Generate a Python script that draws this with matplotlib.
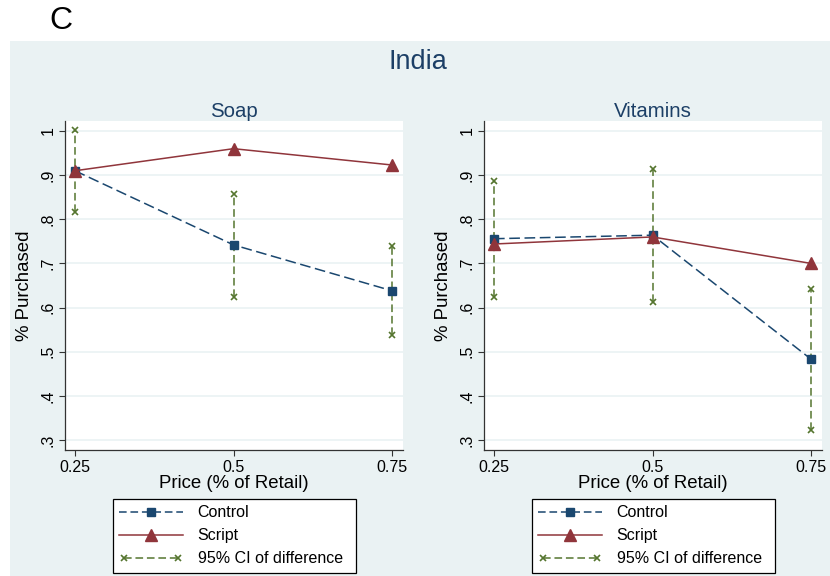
import matplotlib
matplotlib.use("Agg")
import matplotlib.pyplot as plt
from matplotlib.lines import Line2D
from matplotlib.legend_handler import HandlerLine2D
from matplotlib.patches import Rectangle

plt.rcParams['font.family'] = ['Liberation Sans', 'DejaVu Sans']

# data
price = [0.25, 0.5, 0.75]
panels = ["Soap", "Vitamins"]
control = {"Soap": [0.910, 0.742, 0.638], "Vitamins": [0.756, 0.764, 0.483]}
script = {"Soap": [0.910, 0.960, 0.923], "Vitamins": [0.744, 0.760, 0.700]}
ci_lo = {"Soap": [0.816, 0.625, 0.537], "Vitamins": [0.624, 0.613, 0.323]}
ci_hi = {"Soap": [1.003, 0.858, 0.739], "Vitamins": [0.887, 0.915, 0.641]}
yticks = [0.3, 0.4, 0.5, 0.6, 0.7, 0.8, 0.9, 1.0]
ytick_labels = [".3", ".4", ".5", ".6", ".7", ".8", ".9", "1"]
xticks = [0.25, 0.5, 0.75]
xtick_labels = ["0.25", "0.5", "0.75"]

navy = "#1a476f"
maroon = "#90353b"
green = "#55752f"
bg = "#eaf2f3"

W, H = 830, 576
fig = plt.figure(figsize=(8.3, 5.76), dpi=100)
fig.patches.append(Rectangle((10 / W, 0), 1 - 10 / W, 1 - 41 / H,
                             transform=fig.transFigure, facecolor=bg,
                             edgecolor="none", zorder=-5))
fig.text(49 / W, 1 - 21 / H, "C", fontsize=23, va="center", ha="left")
fig.text(418 / W, 1 - 62 / H, "India", fontsize=19.5, color="#1c3f66",
         ha="center", va="center")

lefts = [65, 484]
for k, name in enumerate(panels):
    x0 = lefts[k]
    ax = fig.add_axes([x0 / W, 1 - 450 / H, 338 / W, 329 / H])
    ax.set_facecolor("white")
    ax.set_xlim(0.2343, 0.7672)
    ax.set_ylim(0.2773, 1.0227)
    for s in ["top", "right"]:
        ax.spines[s].set_visible(False)
    for s in ["left", "bottom"]:
        ax.spines[s].set_color("#333333")
        ax.spines[s].set_linewidth(0.9)
    ax.set_yticks(yticks)
    ax.set_yticklabels(ytick_labels, rotation=90, va="center")
    ax.set_xticks(xticks)
    ax.set_xticklabels(xtick_labels)
    ax.tick_params(labelsize=11.5, length=4, color="#333333", pad=3)
    ax.grid(axis="y", color=bg, linewidth=1.2)
    ax.set_axisbelow(True)
    ax.set_ylabel("% Purchased", fontsize=13.4, labelpad=5)
    ax.set_xlabel("Price (% of Retail)", fontsize=13.4, labelpad=0)
    ax.set_title(name, fontsize=14.7, color="#1c3f66", pad=3)

    for i, p in enumerate(price):
        ax.plot([p, p], [ci_lo[name][i], ci_hi[name][i]], color=green,
                linestyle=(0, (5, 2.5)), linewidth=1.1, marker="x",
                markersize=4.5, markeredgewidth=1.2, zorder=2)
    ax.plot(price, control[name], color=navy, linestyle=(0, (7, 3)),
            linewidth=1.1, marker="s", markersize=5.5, zorder=3)
    ax.plot(price, script[name], color=maroon, linewidth=1.1, marker="^",
            markersize=8, zorder=4)

    h_ctrl = Line2D([], [], color=navy, linestyle=(0, (5, 2.5)), linewidth=1.1,
                    marker="s", markersize=5.5)
    h_scr = Line2D([], [], color=maroon, linewidth=1.1, marker="^", markersize=8)
    h_ci = Line2D([], [], color=green, linestyle=(0, (5, 2.5)), linewidth=1.1,
                  marker="x", markersize=4.5, markeredgewidth=1.2)
    leg = fig.legend([h_ctrl, h_scr, h_ci],
                     ["Control", "Script", "95% CI of difference"],
                     loc="upper left",
                     bbox_to_anchor=((x0 + 48) / W, 1 - 499 / H, 243 / W, 0),
                     mode="expand", fontsize=11.5, frameon=True, fancybox=False,
                     edgecolor="black", framealpha=1, handlelength=4.0,
                     handletextpad=0.9, labelspacing=0.5, borderpad=0.4,
                     borderaxespad=0,
                     handler_map={h_ci: HandlerLine2D(numpoints=2)})
    leg.get_frame().set_linewidth(0.9)

fig.savefig("out.png", dpi=100)
